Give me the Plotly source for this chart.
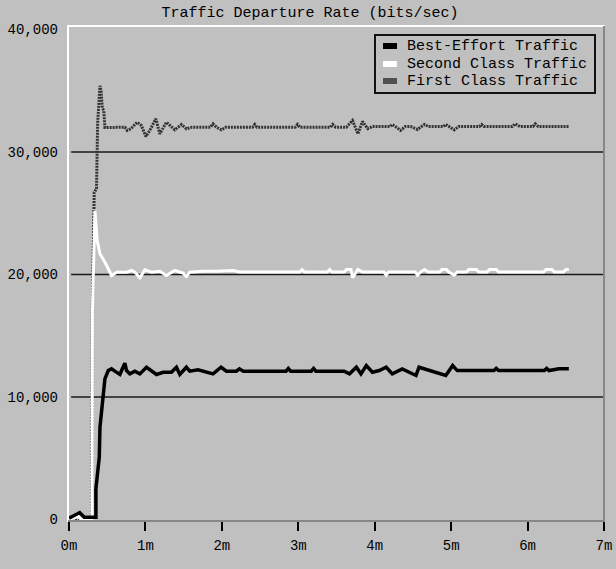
import plotly.graph_objects as go

# ---------------- data ----------------
be_t = [0, 0.07, 0.14, 0.20, 0.352, 0.352, 0.396, 0.405, 0.44, 0.47, 0.513, 0.557, 0.6, 0.666, 0.688,
        0.731, 0.753, 0.796, 0.862, 0.927, 1.014, 1.08, 1.145, 1.232, 1.34, 1.406, 1.45, 1.536, 1.58,
        1.688, 1.797, 1.884, 1.99, 2.06, 2.19, 2.23, 2.28, 2.84, 2.87, 2.9, 3.17, 3.2, 3.23, 3.6, 3.67,
        3.76, 3.82, 3.89, 3.97, 4.06, 4.15, 4.23, 4.36, 4.45, 4.54, 4.58, 4.67, 4.80, 4.93, 5.02, 5.08,
        5.56, 5.59, 5.62, 6.22, 6.25, 6.28, 6.41, 6.54]
be_v = [100, 300, 570, 190, 190, 2500, 5090, 7530, 9710, 11480, 12160, 12300, 12110, 11840, 12160,
        12760, 12160, 11890, 12110, 11890, 12430, 12160, 11840, 12020, 12020, 12430, 11840, 12430, 12110,
        12220, 12020, 11890, 12430, 12110, 12110, 12300, 12110, 12110, 12330, 12110, 12110, 12330, 12110, 12110, 11890,
        12430, 11890, 12570, 12020, 12160, 12430, 11890, 12300, 12020, 11760, 12430, 12240, 12020, 11760, 12570, 12160,
        12160, 12330, 12160, 12160, 12330, 12160, 12300, 12300]

sc_t = [0, 0.08, 0.12, 0.16, 0.300, 0.307, 0.339, 0.369, 0.405, 0.47, 0.557, 0.623, 0.753, 0.819, 0.862,
        0.927, 0.992, 1.08, 1.188, 1.275, 1.384, 1.492, 1.537, 1.58, 1.753, 1.928, 2.145, 2.23, 3.02,
        3.05, 3.08, 3.38, 3.41, 3.44, 3.60, 3.63, 3.69, 3.71, 3.78, 3.84, 4.12, 4.15, 4.18, 4.53, 4.56,
        4.60, 4.65, 4.70, 4.85, 4.88, 4.94, 4.97, 5.04, 5.08, 5.20, 5.23, 5.33, 5.36, 5.47, 5.50, 5.59,
        5.62, 6.21, 6.24, 6.32, 6.35, 6.47, 6.50, 6.54]
sc_v = [0, 150, 250, 0, 0, 17000, 25220, 22780, 21690, 21000, 19920, 20190, 20190, 20330, 20190,
        19730, 20380, 20190, 20270, 19920, 20330, 20110, 19840, 20190, 20270, 20270, 20330, 20200, 20200,
        20400, 20200, 20200, 20400, 20200, 20200, 20400, 20400, 19740, 20410, 20200, 20200, 19950, 20200, 20200, 19950,
        20200, 20400, 20200, 20200, 20400, 20400, 20200, 19950, 20200, 20200, 20400, 20400, 20200, 20200, 20400, 20400,
        20200, 20200, 20400, 20400, 20200, 20200, 20400, 20400]

fc_t = [0, 0.295, 0.305, 0.33, 0.33, 0.36, 0.365, 0.375, 0.405, 0.42, 0.435, 0.455, 0.47, 0.731, 0.761,
        0.81, 0.892, 0.949, 1.005, 1.057, 1.136, 1.188, 1.275, 1.384, 1.471, 1.537, 1.606, 1.85, 1.884,
        1.93, 1.993, 2.05, 2.40, 2.43, 2.46, 2.96, 2.99, 3.02, 3.42, 3.45, 3.49, 3.63, 3.67, 3.71, 3.78,
        3.84, 3.91, 3.97, 4.20, 4.23, 4.27, 4.34, 4.40, 4.47, 4.56, 4.65, 4.70, 4.90, 4.93, 4.97, 5.04,
        5.10, 5.37, 5.40, 5.43, 5.80, 5.84, 5.90, 6.07, 6.10, 6.14, 6.54]
fc_v = [0, 0, 17000, 25400, 26700, 27000, 29900, 32400, 35400, 35000, 33600, 33400, 32000, 32020, 31760,
        31900, 32430, 32150, 31270, 31760, 32710, 31490, 32430, 31810, 32240, 31890, 32020, 32020, 32300,
        32020, 31810, 32020, 32020, 32250, 32020, 32020, 32250, 32020, 32020, 32250, 32020, 32020, 32300, 32570, 31490,
        32490, 31900, 32080, 32080, 32250, 32080, 31760, 32080, 32080, 31840, 32250, 32080, 32080, 32250, 32080, 31810,
        32080, 32080, 32250, 32080, 32080, 32300, 32080, 32080, 32300, 32080, 32080]

series_names = ["Best-Effort Traffic", "Second Class Traffic", "First Class Traffic"]
title_text = "Traffic Departure Rate (bits/sec)"
x_tickvals = [0, 1, 2, 3, 4, 5, 6, 7]
x_ticktext = ["0m", "1m", "2m", "3m", "4m", "5m", "6m", "7m"]
y_tickvals = [0, 10000, 20000, 30000, 40000]
y_ticktext = ["0", "10,000", "20,000", "30,000", "40,000"]
grid_values = [10000, 20000, 30000]

# ---------------- figure ----------------
W, H = 616, 569
ML, MR, MT, MB = 69, 12, 26, 48
PW, PH = W - ML - MR, H - MT - MB
BG = "#c0c0c0"
MONO = "Liberation Mono, DejaVu Sans Mono, monospace"


def px_x(p):
    return (p - ML) / PW


def px_y(p):
    return (H - MB - p) / PH


fig = go.Figure()
fig.add_trace(go.Scatter(x=fc_t, y=fc_v, mode="lines", name=series_names[2],
                         line=dict(color="#333333", width=3, dash="2px,1px"), showlegend=False))
fig.add_trace(go.Scatter(x=sc_t, y=sc_v, mode="lines", name=series_names[1],
                         line=dict(color="white", width=3), showlegend=False))
fig.add_trace(go.Scatter(x=be_t, y=be_v, mode="lines", name=series_names[0],
                         line=dict(color="black", width=3.5), showlegend=False))

shapes = []
for g in grid_values:
    shapes.append(dict(type="line", xref="paper", yref="y", x0=0.004, x1=1, y0=g, y1=g,
                       line=dict(color="#1a1a1a", width=1.6), layer="below"))
# frame: raised look
shapes.append(dict(type="line", xref="paper", yref="paper", x0=px_x(68), x1=px_x(68), y0=px_y(522), y1=px_y(25),
                   line=dict(color="white", width=2)))
shapes.append(dict(type="line", xref="paper", yref="paper", x0=px_x(67), x1=px_x(605), y0=px_y(26), y1=px_y(26),
                   line=dict(color="white", width=2)))
shapes.append(dict(type="line", xref="paper", yref="paper", x0=px_x(68), x1=px_x(605), y0=px_y(521), y1=px_y(521),
                   line=dict(color="#888888", width=2)))
shapes.append(dict(type="line", xref="paper", yref="paper", x0=px_x(604), x1=px_x(604), y0=px_y(522), y1=px_y(26),
                   line=dict(color="#888888", width=2)))
# legend box
shapes.append(dict(type="rect", xref="paper", yref="paper", x0=px_x(375), x1=px_x(595), y0=px_y(93), y1=px_y(35),
                   line=dict(color="#111111", width=2), fillcolor=BG))
swatch_colors = ["black", "white", "#505050"]
row_y = [46, 64, 81]
annotations = []
for name, col, ry in zip(series_names, swatch_colors, row_y):
    shapes.append(dict(type="rect", xref="paper", yref="paper", x0=px_x(383), x1=px_x(397),
                       y0=px_y(ry + 3), y1=px_y(ry - 3), line=dict(width=0), fillcolor=col))
    annotations.append(dict(text=name, xref="paper", yref="paper", x=px_x(405), y=px_y(ry),
                            xanchor="left", yanchor="middle", showarrow=False,
                            font=dict(family=MONO, size=15, color="black")))

fig.update_layout(
    width=W, height=H,
    margin=dict(l=ML, r=MR, t=MT, b=MB, autoexpand=False),
    paper_bgcolor=BG, plot_bgcolor=BG,
    title=dict(text=title_text, x=310 / W, xanchor="center",
               y=1 - 12 / H, yanchor="middle", xref="container", yref="container",
               font=dict(family=MONO, size=15, color="black")),
    showlegend=False,
    shapes=shapes,
    annotations=annotations,
    xaxis=dict(range=[0, 7], tickvals=x_tickvals, ticktext=x_ticktext, showgrid=False, zeroline=False,
               showline=False, ticks="outside", ticklen=9, tickwidth=1.5, tickcolor="black", automargin=False,
               ticklabelstandoff=2, tickfont=dict(family=MONO, size=14, color="black")),
    yaxis=dict(range=[-120, 40285], tickvals=y_tickvals, ticktext=y_ticktext, showgrid=False, zeroline=False,
               showline=False, ticks="", ticklabelstandoff=10, automargin=False,
               tickfont=dict(family=MONO, size=14, color="black")),
)

fig.write_html(
    "out.html",
    config={"displayModeBar": False},
    post_script="document.documentElement.style.margin='0';document.body.style.margin='0';"
                "document.body.style.padding='0';document.body.style.background='#c0c0c0';"
                "document.body.style.overflow='hidden';",
)
